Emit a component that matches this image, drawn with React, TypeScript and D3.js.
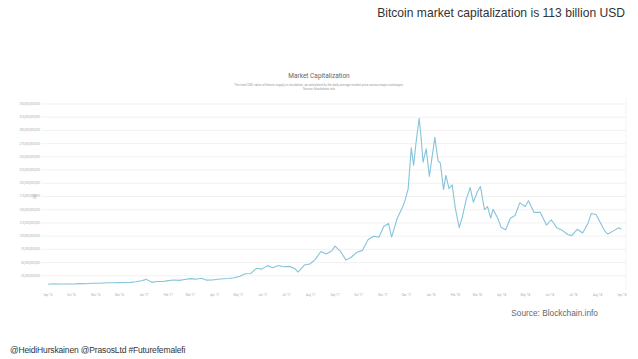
import React, { useEffect, useRef } from "react";
import * as d3 from "d3";

const width = 638;
const height = 359;

// market cap in billions USD
const dates = [
  "2016-09-01", "2016-09-08", "2016-09-15", "2016-09-22", "2016-09-29", "2016-10-06", "2016-10-13",
  "2016-10-20", "2016-10-27", "2016-11-03", "2016-11-10", "2016-11-17", "2016-11-24", "2016-12-01",
  "2016-12-08", "2016-12-15", "2016-12-22", "2016-12-29", "2017-01-04", "2017-01-11", "2017-01-18",
  "2017-01-25", "2017-02-01", "2017-02-08", "2017-02-15", "2017-02-22", "2017-03-01", "2017-03-08",
  "2017-03-15", "2017-03-22", "2017-03-29", "2017-04-05", "2017-04-12", "2017-04-19", "2017-04-26",
  "2017-05-03", "2017-05-10", "2017-05-17", "2017-05-24", "2017-05-31", "2017-06-07", "2017-06-14",
  "2017-06-21", "2017-06-28", "2017-07-05", "2017-07-12", "2017-07-16", "2017-07-24", "2017-07-31",
  "2017-08-07", "2017-08-14", "2017-08-21", "2017-08-28", "2017-09-01", "2017-09-08", "2017-09-15",
  "2017-09-22", "2017-09-29", "2017-10-06", "2017-10-13", "2017-10-20", "2017-10-27", "2017-11-02",
  "2017-11-08", "2017-11-12", "2017-11-19", "2017-11-26", "2017-11-29", "2017-12-03", "2017-12-07",
  "2017-12-10", "2017-12-13", "2017-12-17", "2017-12-19", "2017-12-22", "2017-12-26", "2017-12-30",
  "2018-01-06", "2018-01-10", "2018-01-13", "2018-01-17", "2018-01-20", "2018-01-24", "2018-01-28",
  "2018-02-01", "2018-02-06", "2018-02-10", "2018-02-15", "2018-02-20", "2018-02-24", "2018-03-01",
  "2018-03-05", "2018-03-10", "2018-03-14", "2018-03-18", "2018-03-21", "2018-03-27", "2018-03-31",
  "2018-04-06", "2018-04-12", "2018-04-18", "2018-04-24", "2018-05-01", "2018-05-05", "2018-05-12",
  "2018-05-20", "2018-05-28", "2018-06-03", "2018-06-10", "2018-06-17", "2018-06-24", "2018-06-29",
  "2018-07-06", "2018-07-13", "2018-07-20", "2018-07-24", "2018-07-30", "2018-08-06", "2018-08-10",
  "2018-08-14", "2018-08-21", "2018-08-28", "2018-08-31",
];

const caps = [
  9.1, 9.8, 9.6, 9.5, 9.6, 9.7, 10.1,
  10.0, 10.9, 11.0, 11.4, 11.8, 11.8, 12.1,
  12.3, 12.5, 13.8, 15.7, 18.2, 12.6, 14.2,
  14.3, 15.9, 16.9, 16.3, 18.1, 19.7, 18.6,
  20.2, 16.7, 16.9, 18.4, 19.5, 19.8, 21.3,
  24.1, 28.9, 29.4, 39.2, 37.6, 44.2, 40.2,
  44.3, 42.1, 42.8, 38.4, 32.1, 45.3, 47.3,
  56.1, 71.0, 66.1, 72.4, 81.0, 71.1, 54.6,
  60.5, 69.7, 73.1, 93.1, 99.8, 98.2, 118.3,
  124.2, 98.3, 133.4, 155.2, 167, 189, 267,
  234, 276, 323, 295, 240, 265, 213,
  287, 243, 238, 188, 215, 190, 197,
  153, 116, 137, 170, 192, 164, 184,
  194, 150, 156, 134, 151, 134, 117,
  112, 134, 139, 163, 156, 167, 145,
  145, 121, 131, 116, 111, 103, 101,
  113, 106, 125, 143, 141, 121, 110,
  104, 110, 116, 113,
];

const yTicks = [25, 50, 75, 100, 125, 150, 175, 200, 225, 250, 275, 300, 325, 350];

const App = () => {
  const ref = useRef<SVGSVGElement>(null);

  useEffect(() => {
    const svg = d3.select(ref.current);
    svg.selectAll("*").remove();

    const parse = d3.timeParse("%Y-%m-%d");
    const data = dates.map((d, i) => ({ date: parse(d) as Date, value: caps[i] }));

    const x = d3
      .scaleTime()
      .domain([new Date(2016, 8, 1), new Date(2018, 8, 1)])
      .range([48, 622]);
    const y = d3.scaleLinear().domain([0, 350]).range([289, 104]);

    // headline texts
    svg
      .append("text")
      .attr("x", 625)
      .attr("y", 17)
      .attr("text-anchor", "end")
      .attr("font-family", "Liberation Sans, Arial, sans-serif")
      .attr("font-size", 12.1)
      .attr("fill", "#333")
      .text("Bitcoin market capitalization is 113 billion USD");

    svg
      .append("text")
      .attr("x", 319)
      .attr("y", 78)
      .attr("text-anchor", "middle")
      .attr("font-family", "Roboto, sans-serif")
      .attr("font-size", 6.5)
      .attr("fill", "#666")
      .text("Market Capitalization");

    svg
      .append("text")
      .attr("x", 319)
      .attr("y", 85.5)
      .attr("text-anchor", "middle")
      .attr("font-family", "Roboto, sans-serif")
      .attr("font-size", 3.1)
      .attr("fill", "#999")
      .text(
        "The total USD value of bitcoin supply in circulation, as calculated by the daily average market price across major exchanges."
      );

    svg
      .append("text")
      .attr("x", 319)
      .attr("y", 90)
      .attr("text-anchor", "middle")
      .attr("font-family", "Roboto, sans-serif")
      .attr("font-size", 3.1)
      .attr("fill", "#999")
      .text("Source: blockchain.info");

    // grid
    const grid = svg.append("g");
    grid
      .selectAll("line")
      .data(yTicks)
      .join("line")
      .attr("x1", 42)
      .attr("x2", 626)
      .attr("y1", (d) => y(d))
      .attr("y2", (d) => y(d))
      .attr("stroke", "#ededed")
      .attr("stroke-width", 0.8);

    grid
      .append("line")
      .attr("x1", 626)
      .attr("x2", 626)
      .attr("y1", 98)
      .attr("y2", 290)
      .attr("stroke", "#f0f0f0")
      .attr("stroke-width", 0.8);

    grid
      .selectAll("text")
      .data(yTicks)
      .join("text")
      .attr("x", 40)
      .attr("y", (d) => y(d))
      .attr("dy", "0.35em")
      .attr("text-anchor", "end")
      .attr("font-family", "Roboto, sans-serif")
      .attr("font-size", 2.8)
      .attr("fill", "#aaa")
      .text((d) => d3.format(",")(d * 1e9));

    svg
      .append("text")
      .attr("transform", `translate(36,${y(175)}) rotate(-90)`)
      .attr("text-anchor", "middle")
      .attr("font-family", "Roboto, sans-serif")
      .attr("font-size", 2.8)
      .attr("fill", "#aaa")
      .text("USD");

    // x axis labels
    svg
      .append("g")
      .selectAll("text")
      .data(x.ticks(d3.timeMonth.every(1)))
      .join("text")
      .attr("x", (d) => x(d))
      .attr("y", 295.5)
      .attr("text-anchor", "middle")
      .attr("font-family", "Roboto, sans-serif")
      .attr("font-size", 2.8)
      .attr("fill", "#aaa")
      .text((d) => d3.timeFormat("%b '%y")(d));

    // line
    const line = d3
      .line<{ date: Date; value: number }>()
      .x((d) => x(d.date))
      .y((d) => y(d.value))
      .curve(d3.curveLinear);

    svg
      .append("path")
      .datum(data)
      .attr("fill", "none")
      .attr("stroke", "#86c4da")
      .attr("stroke-width", 1.1)
      .attr("stroke-linejoin", "round")
      .attr("d", line);

    // footer texts
    svg
      .append("text")
      .attr("x", 598)
      .attr("y", 316)
      .attr("text-anchor", "end")
      .attr("font-family", "Liberation Sans, Arial, sans-serif")
      .attr("font-size", 8.3)
      .attr("fill", "#666")
      .text("Source: Blockchain.info");

    svg
      .append("text")
      .attr("x", 10)
      .attr("y", 353)
      .attr("font-family", "Liberation Sans, Arial, sans-serif")
      .attr("font-size", 8.5)
      .attr("letter-spacing", -0.15)
      .attr("fill", "#333")
      .text("@HeidiHurskainen @PrasosLtd #Futurefemalefi");
  }, []);

  return (
    <svg
      ref={ref}
      width={width}
      height={height}
      viewBox={`0 0 ${width} ${height}`}
      style={{ position: "absolute", left: 0, top: 0, background: "#fff" }}
    ></svg>
  );
};

export default App;
